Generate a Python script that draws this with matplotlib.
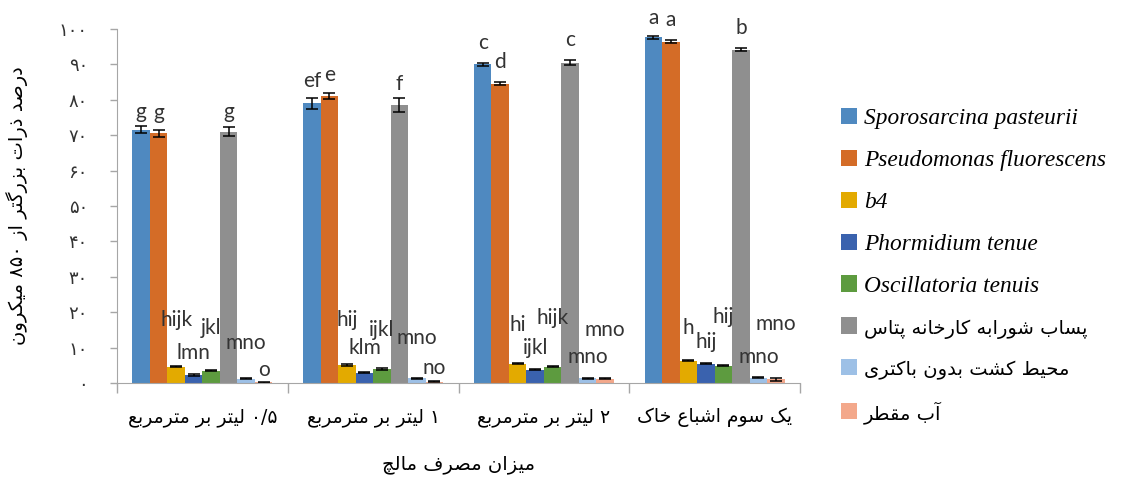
import re
import matplotlib
matplotlib.use('Agg')
import matplotlib.pyplot as plt
from matplotlib.patches import Patch
import numpy as np

# شکل‌های نمایشی حروف فارسی: جدا، پایانی، آغازی، میانی
FORMS = {
    'ا': ('\uFE8D', '\uFE8E', None, None),
    'آ': ('\uFE81', '\uFE82', None, None),
    'ب': ('\uFE8F', '\uFE90', '\uFE91', '\uFE92'),
    'پ': ('\uFB56', '\uFB57', '\uFB58', '\uFB59'),
    'ت': ('\uFE95', '\uFE96', '\uFE97', '\uFE98'),
    'چ': ('\uFB7A', '\uFB7B', '\uFB7C', '\uFB7D'),
    'ح': ('\uFEA1', '\uFEA2', '\uFEA3', '\uFEA4'),
    'خ': ('\uFEA5', '\uFEA6', '\uFEA7', '\uFEA8'),
    'د': ('\uFEA9', '\uFEAA', None, None),
    'ذ': ('\uFEAB', '\uFEAC', None, None),
    'ر': ('\uFEAD', '\uFEAE', None, None),
    'ز': ('\uFEAF', '\uFEB0', None, None),
    'س': ('\uFEB1', '\uFEB2', '\uFEB3', '\uFEB4'),
    'ش': ('\uFEB5', '\uFEB6', '\uFEB7', '\uFEB8'),
    'ص': ('\uFEB9', '\uFEBA', '\uFEBB', '\uFEBC'),
    'ط': ('\uFEC1', '\uFEC2', '\uFEC3', '\uFEC4'),
    'ع': ('\uFEC9', '\uFECA', '\uFECB', '\uFECC'),
    'ف': ('\uFED1', '\uFED2', '\uFED3', '\uFED4'),
    'ق': ('\uFED5', '\uFED6', '\uFED7', '\uFED8'),
    'ک': ('\uFB8E', '\uFB8F', '\uFB90', '\uFB91'),
    'گ': ('\uFB92', '\uFB93', '\uFB94', '\uFB95'),
    'ل': ('\uFEDD', '\uFEDE', '\uFEDF', '\uFEE0'),
    'م': ('\uFEE1', '\uFEE2', '\uFEE3', '\uFEE4'),
    'ن': ('\uFEE5', '\uFEE6', '\uFEE7', '\uFEE8'),
    'ه': ('\uFEE9', '\uFEEA', '\uFEEB', '\uFEEC'),
    'و': ('\uFEED', '\uFEEE', None, None),
    'ی': ('\uFBFC', '\uFBFD', '\uFBFE', '\uFBFF'),
}


def shape(s):
    out = []
    for i, ch in enumerate(s):
        if ch not in FORMS:
            out.append(ch)
            continue
        prev = s[i - 1] if i > 0 else None
        nxt = s[i + 1] if i + 1 < len(s) else None
        jp = prev in FORMS and FORMS[prev][2] is not None
        jn = nxt in FORMS and FORMS[ch][2] is not None
        f = FORMS[ch]
        if jp and jn:
            out.append(f[3])
        elif jp:
            out.append(f[1])
        elif jn:
            out.append(f[2])
        else:
            out.append(f[0])
    return ''.join(out)


def fa(text):
    # ترتیب نمایشی متن راست به چپ (اعداد چپ به راست می‌مانند)
    chunks = re.findall('[\u06F0-\u06F9][\u06F0-\u06F9/]*|.', shape(text))
    return ''.join(reversed(chunks))


# داده‌ها
categories = ['۰/۵ لیتر بر مترمربع', '۱ لیتر بر مترمربع', '۲ لیتر بر مترمربع', 'یک سوم اشباع خاک']
series_names = ['Sporosarcina pasteurii', 'Pseudomonas fluorescens', 'b4', 'Phormidium tenue',
                'Oscillatoria tenuis', 'پساب شورابه کارخانه پتاس', 'محیط کشت بدون باکتری', 'آب مقطر']

sp_pasteurii = [71.5, 79.0, 90.0, 97.6]
ps_fluorescens = [70.5, 81.0, 84.5, 96.4]
b4 = [4.6, 5.1, 5.5, 6.3]
ph_tenue = [2.3, 2.9, 3.8, 5.5]
os_tenuis = [3.5, 4.0, 4.6, 4.9]
potash_brine = [71.0, 78.5, 90.5, 94.2]
no_bacteria = [1.2, 1.3, 1.3, 1.5]
distilled = [0.2, 0.4, 1.2, 1.0]

err_sp = [1.0, 1.6, 0.5, 0.5]
err_ps = [1.0, 0.9, 0.4, 0.4]
err_b4 = [0.2, 0.2, 0.2, 0.2]
err_ph = [0.2, 0.2, 0.2, 0.1]
err_os = [0.2, 0.2, 0.1, 0.1]
err_brine = [1.3, 2.0, 0.8, 0.4]
err_nb = [0.2, 0.2, 0.1, 0.2]
err_dw = [0.1, 0.2, 0.2, 0.5]

letters = [
    ['g', 'ef', 'c', 'a'],
    ['g', 'e', 'd', 'a'],
    ['hijk', 'hij', 'hi', 'h'],
    ['lmn', 'klm', 'ijkl', 'hij'],
    ['jkl', 'ijkl', 'hijk', 'hij'],
    ['g', 'f', 'c', 'b'],
    ['mno', 'mno', 'mno', 'mno'],
    ['o', 'no', 'mno', 'mno'],
]
letter_y = [
    [76.6, 85.4, 96.1, 103.0],
    [76.2, 87.0, 90.8, 102.4],
    [17.8, 17.8, 16.4, 15.5],
    [8.5, 9.9, 9.8, 11.7],
    [15.5, 15.0, 18.3, 18.7],
    [76.6, 84.6, 96.9, 100.4],
    [11.3, 12.7, 7.4, 7.4],
    [3.7, 4.2, 15.0, 16.8],
]

yticks = [0, 10, 20, 30, 40, 50, 60, 70, 80, 90, 100]
ytick_labels = ['۰', '۱۰', '۲۰', '۳۰', '۴۰', '۵۰', '۶۰', '۷۰', '۸۰', '۹۰', '۱۰۰']

values = [sp_pasteurii, ps_fluorescens, b4, ph_tenue, os_tenuis, potash_brine, no_bacteria, distilled]
errors = [err_sp, err_ps, err_b4, err_ph, err_os, err_brine, err_nb, err_dw]
colors = ['#4F89C0', '#D46C27', '#E3AA00', '#3A62AE', '#5D9B3F', '#8F8F8F', '#9DC0E6', '#F3A88B']

fig = plt.figure(figsize=(11.32, 4.83), dpi=100)
ax = fig.add_axes([0.1034, 0.207, 0.6034, 0.733])

x = np.arange(len(categories))
n = len(values)
w = 0.82 / n
for i in range(n):
    pos = x - 0.41 + w * (i + 0.5)
    ax.bar(pos, values[i], w, color=colors[i], edgecolor='none',
           yerr=errors[i], error_kw=dict(ecolor='black', elinewidth=1.1, capsize=4, capthick=1.1))
    for j in range(len(categories)):
        ax.text(pos[j], letter_y[i][j], letters[i][j], ha='center', va='center',
                fontsize=15, family='Lato', color='#333333', clip_on=False)

ax.set_xlim(-0.5, len(categories) - 0.5)
ax.set_ylim(0, 100)
ax.set_yticks(yticks)
ax.set_yticklabels(ytick_labels, family='DejaVu Sans', fontsize=13, color='#333333')
ax.tick_params(axis='y', length=5, width=1, color='#a6a6a6', pad=16)

ax.set_xticks(x)
ax.set_xticklabels([fa(c) for c in categories], family='DejaVu Sans', fontsize=13.5)
ax.tick_params(axis='x', which='major', length=0, pad=18)
ax.set_xticks(np.arange(-0.5, len(categories)), minor=True)
ax.tick_params(axis='x', which='minor', length=7, width=1, color='#a6a6a6')

for s in ['top', 'right']:
    ax.spines[s].set_visible(False)
for s in ['left', 'bottom']:
    ax.spines[s].set_color('#a6a6a6')

ax.set_xlabel(fa('میزان مصرف مالچ'), family='DejaVu Sans', fontsize=14, labelpad=20)
ax.set_ylabel(fa('درصد ذرات بزرگتر از ۸۵۰ میکرون'), family='DejaVu Sans', fontsize=14, labelpad=22)

handles = [Patch(facecolor=c, edgecolor='none') for c in colors]
labels = [s if i < 5 else fa(s) for i, s in enumerate(series_names)]
leg = fig.legend(handles, labels, loc='upper left', bbox_to_anchor=(0.724, 0.82), frameon=False,
                 handlelength=0.7, handleheight=0.7, handletextpad=0.3, labelspacing=0.88,
                 prop={'family': 'Liberation Serif', 'style': 'italic', 'size': 16.8})
for i, t in enumerate(leg.get_texts()):
    if i >= 5:
        t.set_fontfamily('DejaVu Sans')
        t.set_fontstyle('normal')
        t.set_fontsize(14)

fig.savefig('out.png', dpi=100)
